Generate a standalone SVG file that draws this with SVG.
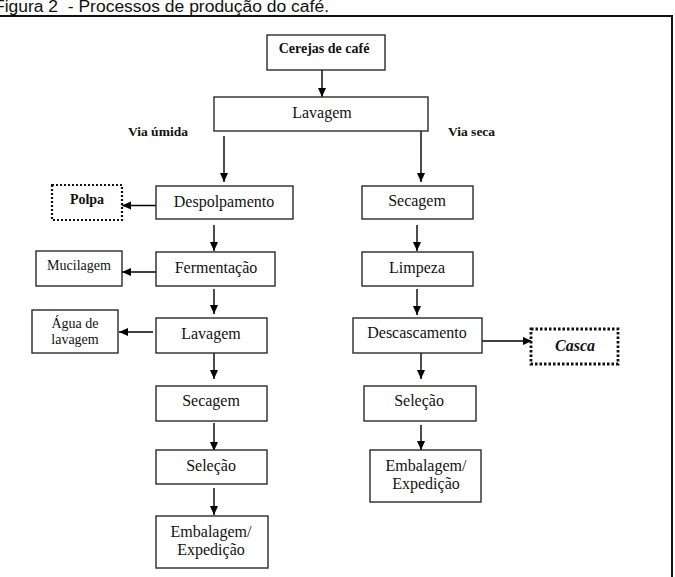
<svg xmlns="http://www.w3.org/2000/svg" width="675" height="577" viewBox="0 0 675 577">
<style>
.bx{fill:#fff;stroke:#2a2a2a;stroke-width:1.4}
.dot{fill:#fff;stroke:#111;stroke-width:2.2;stroke-dasharray:2 2}
.t{font-family:"Liberation Serif","Times New Roman",serif;font-size:16px;fill:#111;text-anchor:middle}
.s{font-size:14px}
.b{font-weight:bold}
.lab{font-family:"Liberation Serif","Times New Roman",serif;font-size:13.5px;font-weight:bold;fill:#111}
.ln{stroke:#000;stroke-width:1.4;fill:none;marker-end:url(#ah)}
</style>
<defs>
<marker id="ah" markerUnits="userSpaceOnUse" markerWidth="10" markerHeight="10" viewBox="0 0 10 10" refX="9" refY="5" orient="auto">
<path d="M0,1 L9,5 L0,9 Z" fill="#000"/>
</marker>
</defs>
<rect width="675" height="577" fill="#fff"/>
<text x="-6" y="11.5" font-family="'Liberation Sans',Arial,sans-serif" font-size="16" fill="#111" xml:space="preserve" style="white-space:pre" textLength="335" lengthAdjust="spacingAndGlyphs">Figura 2  - Processos de produção do café.</text>
<rect x="-2" y="16" width="674" height="575" fill="none" stroke="#111" stroke-width="2"/>
<g id="connectors">
<line class="ln" x1="322" y1="70" x2="322" y2="97"/>
<line class="ln" x1="224" y1="136" x2="224" y2="182"/>
<line class="ln" x1="421" y1="131" x2="421" y2="182"/>
<line class="ln" x1="214" y1="225" x2="214" y2="251"/>
<line class="ln" x1="214" y1="289" x2="214" y2="314"/>
<line class="ln" x1="214" y1="353" x2="214" y2="379"/>
<line class="ln" x1="214" y1="423" x2="214" y2="451"/>
<line class="ln" x1="214" y1="488" x2="214" y2="515"/>
<line class="ln" x1="156" y1="205.5" x2="122" y2="205.5"/>
<line class="ln" x1="156" y1="272" x2="122" y2="272"/>
<line class="ln" x1="153" y1="332" x2="119" y2="332"/>
<line class="ln" x1="417" y1="225" x2="417" y2="251"/>
<line class="ln" x1="417" y1="289" x2="417" y2="315"/>
<line class="ln" x1="482" y1="341" x2="532" y2="341"/>
<line class="ln" x1="421" y1="353" x2="421" y2="379"/>
<line class="ln" x1="421" y1="425" x2="421" y2="450"/>
</g>
<g id="cerejas"><rect class="bx" x="267" y="35" width="118" height="35"/><text class="t b" style="font-size:14px" x="324" y="53">Cerejas de café</text></g>
<g id="lavagem1"><rect class="bx" x="214" y="97" width="214" height="34"/><text class="t" x="322" y="118">Lavagem</text></g>
<text class="lab" x="128" y="136">Via úmida</text>
<text class="lab" x="448" y="136">Via seca</text>
<g id="despolpamento"><rect class="bx" x="156" y="186" width="137" height="33"/><text class="t" x="224" y="207">Despolpamento</text></g>
<g id="polpa"><rect class="dot" x="52" y="185" width="70" height="35"/><text class="t b s" x="87" y="204">Polpa</text></g>
<g id="fermentacao"><rect class="bx" x="156" y="252" width="119" height="34"/><text class="t" x="216" y="273">Fermentação</text></g>
<g id="mucilagem"><rect class="bx" x="36" y="251" width="86" height="35"/><text class="t s" x="79" y="270">Mucilagem</text></g>
<g id="lavagem2"><rect class="bx" x="156" y="318" width="111" height="35"/><text class="t" x="211" y="339">Lavagem</text></g>
<g id="agua"><rect class="bx" x="32" y="310" width="86" height="43"/><text class="t s" x="75" y="328">Água de</text><text class="t s" x="75" y="344">lavagem</text></g>
<g id="secagem1"><rect class="bx" x="156" y="386" width="111" height="35"/><text class="t" x="211" y="406">Secagem</text></g>
<g id="selecao1"><rect class="bx" x="156" y="450" width="111" height="34"/><text class="t" x="211" y="471">Seleção</text></g>
<g id="embalagem1"><rect class="bx" x="156" y="516" width="112" height="52"/><text class="t" x="211" y="537">Embalagem/</text><text class="t" x="211" y="555">Expedição</text></g>
<g id="secagem2"><rect class="bx" x="362" y="186" width="111" height="33"/><text class="t" x="417" y="206">Secagem</text></g>
<g id="limpeza"><rect class="bx" x="362" y="252" width="111" height="34"/><text class="t" x="417" y="273">Limpeza</text></g>
<g id="descascamento"><rect class="bx" x="353" y="318" width="129" height="35"/><text class="t" x="417" y="338">Descascamento</text></g>
<g id="casca"><rect class="dot" x="531" y="329" width="87" height="35" style="stroke-width:2.8;stroke-dasharray:2.5 2"/><text class="t b" x="575" y="351" font-style="italic">Casca</text></g>
<g id="selecao2"><rect class="bx" x="364" y="386" width="112" height="35"/><text class="t" x="419" y="406">Seleção</text></g>
<g id="embalagem2"><rect class="bx" x="370" y="450" width="111" height="52"/><text class="t" x="426" y="471">Embalagem/</text><text class="t" x="426" y="489">Expedição</text></g>
</svg>
